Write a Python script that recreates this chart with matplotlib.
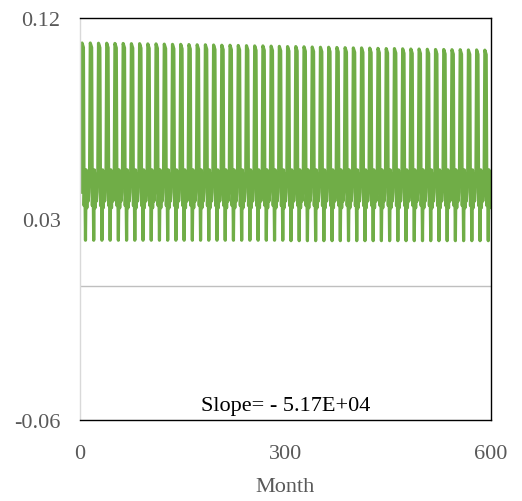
import matplotlib
matplotlib.use("Agg")
import matplotlib.pyplot as plt
import numpy as np

# Monthly profile within one year
month_profile = [0.042, 0.052, 0.108, 0.107, 0.106, 0.036, 0.051, 0.021, 0.052, 0.035, 0.050, 0.038]
# Annual peak values (slight decline over 50 years)
annual_peaks = [0.1088, 0.1088, 0.1087, 0.1087, 0.1086, 0.1086, 0.1085, 0.1085, 0.1084, 0.1084,
                0.1083, 0.1082, 0.1082, 0.1081, 0.1080, 0.1080, 0.1079, 0.1078, 0.1078, 0.1077,
                0.1076, 0.1075, 0.1075, 0.1074, 0.1073, 0.1072, 0.1072, 0.1071, 0.1070, 0.1069,
                0.1069, 0.1068, 0.1067, 0.1066, 0.1066, 0.1065, 0.1064, 0.1063, 0.1063, 0.1062,
                0.1061, 0.1061, 0.1060, 0.1059, 0.1059, 0.1058, 0.1058, 0.1057, 0.1057, 0.1056]
annual_troughs = [0.0205] * 25 + [0.0203] * 25

x_ticks = [0, 300, 600]
y_ticks = [-0.06, 0.03, 0.12]
y_tick_labels = ["-0.06", "0.03", "0.12"]
slope_text = "Slope= - 5.17E+04"
x_label = "Month"

values = []
for yr, (pk, tr) in enumerate(zip(annual_peaks, annual_troughs)):
    prof = list(month_profile)
    prof[2] = pk
    prof[3] = pk - 0.001
    prof[4] = pk - 0.002
    prof[7] = tr
    values.extend(prof)
months = np.arange(1, len(values) + 1)

plt.rcParams['font.family'] = ['Liberation Serif', 'DejaVu Serif']

fig = plt.figure(figsize=(5.22, 5.02), dpi=100)
ax = fig.add_axes([80/522, 1 - 421/502, (491 - 80)/522, (421 - 19)/502])

ax.axhline(0, color='#BFBFBF', lw=1.0, zorder=1)
ax.plot(months, values, color='#70AD47', lw=2.3, zorder=2)

ax.set_xlim(0, 600)
ax.set_ylim(-0.06, 0.12)
ax.set_xticks(x_ticks)
ax.set_yticks(y_ticks)
ax.set_yticklabels(y_tick_labels)
ax.tick_params(length=0, labelsize=16, colors='#595959')
ax.tick_params(axis='y', pad=14)
ax.tick_params(axis='x', pad=17)
ax.set_xlabel(x_label, fontsize=16, color='#595959', labelpad=10)

for s in ['top', 'right', 'bottom']:
    ax.spines[s].set_color('black')
    ax.spines[s].set_linewidth(1.0)
ax.spines['left'].set_color('#D9D9D9')
ax.spines['left'].set_linewidth(1.0)

ax.text(0.5, 0.012, slope_text, transform=ax.transAxes, ha='center', va='bottom',
        fontsize=16, color='black')

fig.savefig("out.png", dpi=100)
